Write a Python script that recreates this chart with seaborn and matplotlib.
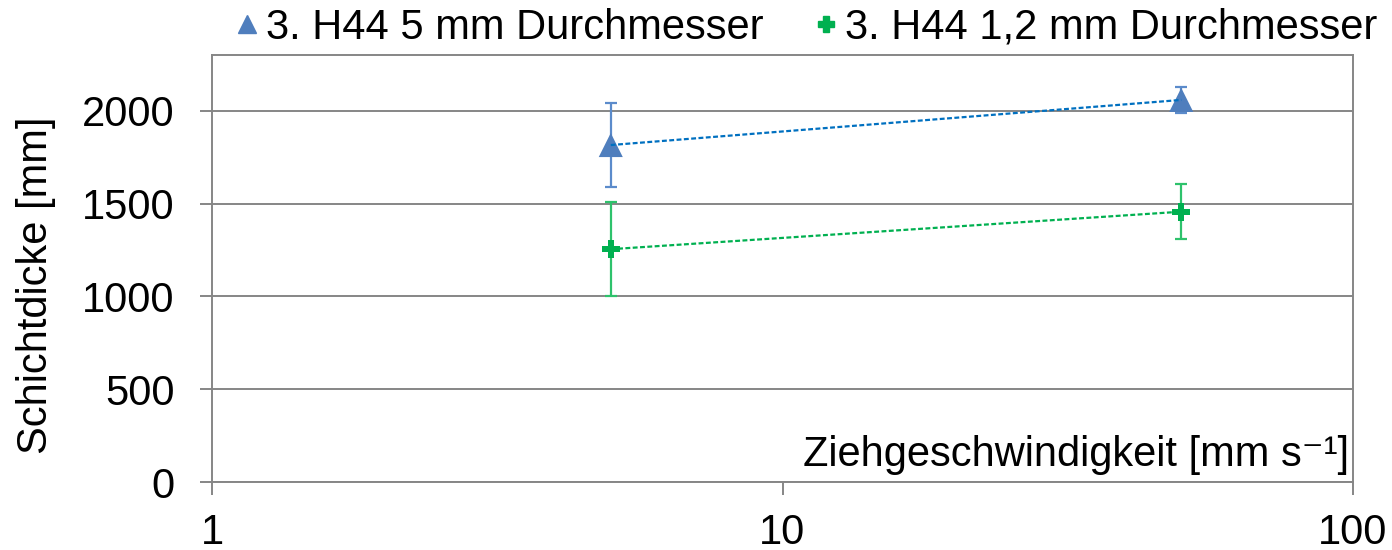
import matplotlib
matplotlib.use("Agg")
import matplotlib.pyplot as plt
import seaborn as sns
from matplotlib.lines import Line2D
from matplotlib.ticker import NullLocator

# Pulling speed [mm/s] and measured layer thickness with standard deviation
speed = [5, 50]
thick_5mm = [1815, 2058]
err_5mm = [225, 72]
thick_12mm = [1254, 1456]
err_12mm = [252, 148]
series_labels = ["3. H44 5 mm Durchmesser", "3. H44 1,2 mm Durchmesser"]
x_ticks = [1, 10, 100]
y_ticks = [0, 500, 1000, 1500, 2000]

sns.set_style("white")
plt.rcParams["font.family"] = ["Liberation Sans", "DejaVu Sans"]
plt.rcParams["text.color"] = "black"
plt.rcParams["axes.labelcolor"] = "black"

GREY = "#868686"
BLUE_MARK = "#4F7EBD"
BLUE_LINE = "#0070C0"
BLUE_ERR = "#5B8BCB"
GREEN = "#00B050"
GREEN_ERR = "#2EC26C"
FS = 30

fig = plt.figure(figsize=(13.92, 5.5), dpi=100)
ax = fig.add_axes([212 / 1392, 68 / 550, 1141 / 1392, 427 / 550])
ax.set_xscale("log")

series = [
    (thick_5mm, err_5mm, "^", 300, BLUE_MARK, BLUE_LINE, BLUE_ERR),
    (thick_12mm, err_12mm, "P", 175, GREEN, GREEN, GREEN_ERR),
]
for vals, errs, mk, size, mcol, lcol, ecol in series:
    ax.errorbar(speed, vals, yerr=errs, fmt="none", ecolor=ecol,
                elinewidth=1.6, capsize=4.5, capthick=1.6, zorder=2)
    sns.scatterplot(x=speed, y=vals, marker=mk, s=size, color=mcol,
                    edgecolor="none", ax=ax, zorder=3, legend=False)
    sns.lineplot(x=speed, y=vals, color=lcol, lw=1.6,
                 linestyle=(0, (2.2, 1.1)), ax=ax, zorder=4, legend=False)

ax.set_xlim(1, 100)
ax.set_ylim(0, 2300)
ax.set_xticks(x_ticks, labels=[str(t) for t in x_ticks])
ax.xaxis.set_minor_locator(NullLocator())
ax.set_yticks(y_ticks)

ax.grid(axis="y", color=GREY, lw=1.4)
ax.grid(axis="x", visible=False)
ax.set_axisbelow(True)
for sp in ax.spines.values():
    sp.set_color(GREY)
    sp.set_linewidth(1.4)

ax.tick_params(axis="both", labelsize=FS, labelcolor="black")
ax.tick_params(axis="x", bottom=True, direction="out", length=9,
               width=1.4, color=GREY, pad=13)
ax.tick_params(axis="y", left=True, direction="out", length=9,
               width=1.4, color=GREY, pad=18)

ax.set_ylabel("Schichtdicke [mm]", fontsize=FS, color="black")
ax.yaxis.set_label_coords(-0.137, 0.46)
ax.set_xlabel("Ziehgeschwindigkeit [mm s⁻¹]", fontsize=FS, color="black",
              ha="right", va="center")
ax.xaxis.set_label_coords(0.997, 0.063)

handles = [
    Line2D([], [], marker="^", color=BLUE_MARK, linestyle="none", markersize=13),
    Line2D([], [], marker="P", color=GREEN, linestyle="none", markersize=11),
]
leg = fig.legend(handles, series_labels, loc="center", ncol=2, frameon=False,
                 fontsize=FS, bbox_to_anchor=(806 / 1392, 1 - 28 / 550),
                 handlelength=0.6, handletextpad=0.15, columnspacing=1.2,
                 borderaxespad=0, borderpad=0)
for t in leg.get_texts():
    t.set_color("black")

fig.savefig("out.png", dpi=100)
